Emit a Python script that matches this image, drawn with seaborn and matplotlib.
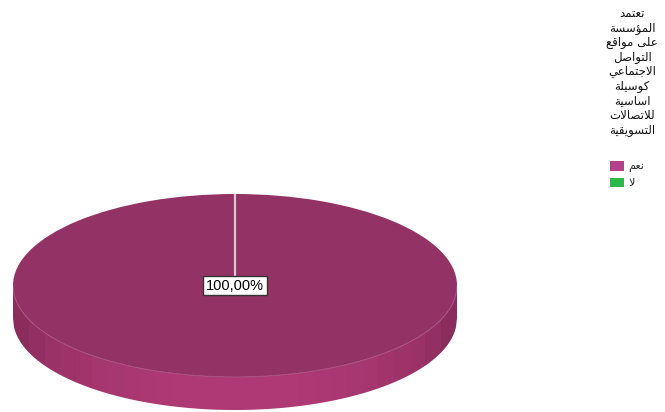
import numpy as np
import matplotlib
matplotlib.use("Agg")
import matplotlib.pyplot as plt
from matplotlib.patches import Patch, Polygon
from matplotlib.colors import to_rgb
import seaborn as sns

# ---- data -------------------------------------------------------------
title_lines = ["تعتمد", "المؤسسة", "على مواقع", "التواصل", "الاجتماعي",
               "كوسيلة", "اساسية", "للاتصالات", "التسويقية"]
categories = ["نعم", "لا"]
percentages = [100.0, 0.0]
category_colors = ["#b4428a", "#2db84c"]

# ---- minimal Arabic shaping (matplotlib lays text out left-to-right) ---
FORMS = {
    "ا": ("\uFE8D", "\uFE8E", None, None),
    "ؤ": ("\uFE85", "\uFE86", None, None),
    "ة": ("\uFE93", "\uFE94", None, None),
    "ت": ("\uFE95", "\uFE96", "\uFE97", "\uFE98"),
    "ج": ("\uFE9D", "\uFE9E", "\uFE9F", "\uFEA0"),
    "د": ("\uFEA9", "\uFEAA", None, None),
    "س": ("\uFEB1", "\uFEB2", "\uFEB3", "\uFEB4"),
    "ص": ("\uFEB9", "\uFEBA", "\uFEBB", "\uFEBC"),
    "ع": ("\uFEC9", "\uFECA", "\uFECB", "\uFECC"),
    "ق": ("\uFED5", "\uFED6", "\uFED7", "\uFED8"),
    "ك": ("\uFED9", "\uFEDA", "\uFEDB", "\uFEDC"),
    "ل": ("\uFEDD", "\uFEDE", "\uFEDF", "\uFEE0"),
    "م": ("\uFEE1", "\uFEE2", "\uFEE3", "\uFEE4"),
    "ن": ("\uFEE5", "\uFEE6", "\uFEE7", "\uFEE8"),
    "و": ("\uFEED", "\uFEEE", None, None),
    "ى": ("\uFEEF", "\uFEF0", None, None),
    "ي": ("\uFEF1", "\uFEF2", "\uFEF3", "\uFEF4"),
    "لا": ("\uFEFB", "\uFEFC", None, None),
}


def shape(text):
    toks = []
    i = 0
    while i < len(text):
        if text[i] == "ل" and i + 1 < len(text) and text[i + 1] == "ا":
            toks.append("لا")
            i += 2
        else:
            toks.append(text[i])
            i += 1

    def dual(t):
        return t in FORMS and FORMS[t][2] is not None

    out = []
    for k, t in enumerate(toks):
        if t not in FORMS:
            out.append(t)
            continue
        prev_joins = k > 0 and dual(toks[k - 1])
        next_joins = dual(t) and k + 1 < len(toks) and toks[k + 1] in FORMS
        iso, fin, ini, med = FORMS[t]
        if prev_joins and next_joins:
            out.append(med)
        elif prev_joins:
            out.append(fin)
        elif next_joins:
            out.append(ini)
        else:
            out.append(iso)
    return "".join(out)[::-1]


sns.set_theme(style="white")
plt.rcParams["font.family"] = ["DejaVu Sans"]

W, H = 665, 412
fig = plt.figure(figsize=(W / 100, H / 100), dpi=100)
fig.patch.set_facecolor("white")

# pie occupies an elliptical footprint; side band below the top face
px_left, px_right, px_top, px_face_bottom, px_bottom = 13, 457, 194, 377, 410
ry_px = (px_face_bottom - px_top) / 2
depth = (px_bottom - px_face_bottom) / ry_px
ax = fig.add_axes([px_left / W, (H - px_bottom) / H,
                   (px_right - px_left) / W, (px_bottom - px_top) / H])

face_col = np.array(to_rgb("#933264"))
side_dark = np.array(to_rgb("#8a2c5c"))
side_light = np.array(to_rgb("#b03a76"))

# side of the disc: cylinder shading clipped to the band under the face
xs = np.linspace(-1, 1, 400)
low = -np.sqrt(np.clip(1 - xs ** 2, 0, 1))
band = np.concatenate([np.column_stack([xs, low]),
                       np.column_stack([xs[::-1], low[::-1] - depth])])
clip = Polygon(band, closed=True, transform=ax.transData)
steps = 28
gx = np.linspace(-1, 1, steps)
shade = np.sqrt(np.clip(1 - gx ** 2, 0, 1)) ** 1.3
grad = side_dark[None, :] + (side_light - side_dark)[None, :] * shade[:, None]
img = ax.imshow(grad[None, :, :], extent=(-1, 1, -1 - depth, 0),
                aspect="auto", interpolation="nearest", zorder=1)
img.set_clip_path(clip)

# top face
wedges, _ = ax.pie(percentages, colors=[face_col, category_colors[1]],
                   startangle=90, counterclock=False, radius=1,
                   wedgeprops=dict(linewidth=0))
for w in wedges:
    w.set_zorder(2)
ax.plot(xs, low, color="#a8507f", lw=0.8, zorder=3)

# slice boundary at the start angle
ang = np.deg2rad(90)
ax.plot([0, np.cos(ang)], [0, np.sin(ang)], color="#d9c6d0", lw=1.6, zorder=4)

label = f"{percentages[0]:.2f}%".replace(".", ",")
ax.text(0, 0, label, ha="center", va="center", fontsize=10.5,
        family=["Liberation Sans", "DejaVu Sans"], color="black", zorder=5,
        bbox=dict(boxstyle="square,pad=0.2", fc="white", ec="#333333", lw=1))

ax.set_aspect("auto")
ax.set_xlim(-1, 1)
ax.set_ylim(-1 - depth, 1)
ax.axis("off")

# legend title, centred block of lines
fig.text(632 / W, 1 - 7 / H, "\n".join(shape(l) for l in title_lines),
         ha="center", va="top", multialignment="center", fontsize=8.5,
         linespacing=1.15, color="#111111")

# legend entries
handles = [Patch(facecolor=c, edgecolor="none") for c in category_colors]
leg = fig.legend(handles, [shape(c) for c in categories],
                 loc="upper left", bbox_to_anchor=(607 / W, 1 - 158 / H),
                 frameon=False, markerfirst=True, fontsize=8,
                 handlelength=1.2, handleheight=0.95, handletextpad=0.4,
                 labelspacing=0.42, borderaxespad=0.0, borderpad=0.3)

fig.savefig("out.png", dpi=100, facecolor="white")
